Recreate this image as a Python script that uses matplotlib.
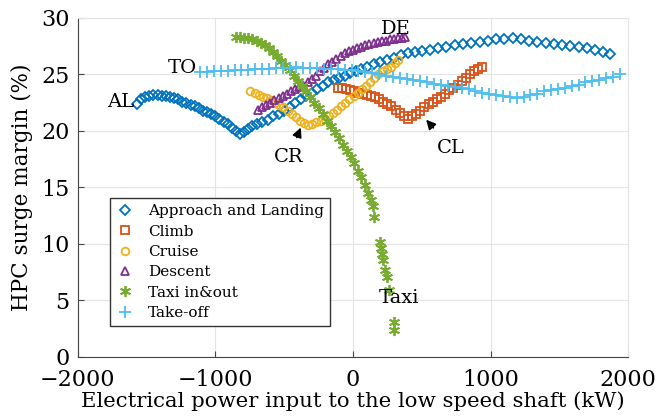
import numpy as np
import matplotlib.pyplot as plt

# Approach and Landing
al_x = [-1570, -1540, -1510, -1480, -1450, -1420, -1390, -1360, -1330, -1300,
        -1270, -1240, -1210, -1180, -1150, -1120, -1090, -1060, -1030, -1000,
        -970, -940, -910, -880, -850, -820, -790, -760, -730, -700,
        -660, -620, -580, -540, -500, -460, -420, -380, -340, -300,
        -260, -220, -180, -140, -100, -60, -20, 20, 60, 100,
        150, 200, 250, 300, 350, 400, 450, 500, 560, 620,
        680, 740, 800, 860, 920, 980, 1040, 1100, 1160, 1220,
        1280, 1340, 1400, 1460, 1520, 1580, 1640, 1700, 1760, 1820, 1870]
al_y = [22.4, 22.8, 23.0, 23.1, 23.2, 23.2, 23.1, 23.1, 23.0, 22.9,
        22.8, 22.6, 22.5, 22.3, 22.2, 22.0, 21.8, 21.7, 21.5, 21.3,
        21.1, 20.8, 20.6, 20.3, 20.0, 19.7, 19.9, 20.2, 20.4, 20.6,
        20.8, 21.0, 21.3, 21.5, 21.8, 22.1, 22.5, 22.8, 23.1, 23.4,
        23.7, 24.0, 24.3, 24.5, 24.7, 24.9, 25.1, 25.3, 25.5, 25.7,
        25.9, 26.1, 26.3, 26.5, 26.7, 26.9, 27.0, 27.1, 27.2, 27.3,
        27.4, 27.6, 27.7, 27.8, 27.9, 28.0, 28.1, 28.1, 28.2, 28.1,
        28.0, 27.9, 27.8, 27.7, 27.6, 27.5, 27.4, 27.3, 27.2, 27.0, 26.8]

# Climb
cl_x = [-110, -80, -50, -20, 10, 40, 70, 100, 130, 160, 190, 220, 250, 280,
        310, 340, 370, 400, 430, 460, 490, 520, 550, 580, 610, 640, 670,
        700, 730, 760, 790, 820, 850, 880, 910, 935]
cl_y = [23.8, 23.8, 23.7, 23.6, 23.5, 23.4, 23.3, 23.2, 23.1, 23.0, 22.8, 22.6,
        22.4, 22.2, 21.9, 21.6, 21.3, 21.1, 21.3, 21.5, 21.8, 22.1, 22.4, 22.6,
        22.8, 23.0, 23.3, 23.6, 23.8, 24.1, 24.4, 24.7, 25.0, 25.3, 25.5, 25.7]

# Cruise
cr_x = [-745, -715, -685, -655, -625, -595, -565, -535, -505, -475, -445,
        -415, -385, -355, -325, -295, -265, -235, -205, -175, -145, -115,
        -85, -55, -25, 5, 35, 65, 95, 125, 155, 185, 215, 245, 275, 305, 330]
cr_y = [23.5, 23.4, 23.2, 23.0, 22.9, 22.7, 22.5, 22.3, 22.1, 21.8, 21.5,
        21.2, 20.9, 20.7, 20.5, 20.6, 20.8, 20.9, 21.1, 21.3, 21.6, 21.9,
        22.2, 22.5, 22.8, 23.1, 23.4, 23.7, 24.0, 24.3, 24.7, 25.0, 25.3,
        25.5, 25.7, 26.0, 26.3]

# Descent
de_x = [-690, -660, -630, -600, -570, -540, -510, -480, -450, -420, -390,
        -360, -330, -300, -270, -240, -210, -180, -150, -120, -90, -60, -30,
        0, 30, 60, 90, 120, 150, 180, 210, 240, 270, 300, 330, 360, 380]
de_y = [21.9, 22.1, 22.3, 22.5, 22.7, 22.9, 23.1, 23.3, 23.5, 23.7, 23.9,
        24.1, 24.3, 24.6, 24.9, 25.3, 25.6, 25.9, 26.1, 26.4, 26.6, 26.9, 27.1,
        27.2, 27.3, 27.4, 27.6, 27.7, 27.8, 27.9, 28.0, 28.0, 28.1, 28.1, 28.2,
        28.2, 28.3]

# Taxi in&out
tx_x = [-850, -820, -790, -760, -730, -700, -670, -640, -610, -580, -550,
        -520, -490, -460, -430, -400, -370, -340, -310, -280, -250, -220,
        -190, -160, -130, -100, -70, -40, -15, 10, 35, 60, 85, 110, 130, 146,
        155, 197, 204, 212, 219, 233, 248, 262, 299, 299]
tx_y = [28.3, 28.3, 28.2, 28.2, 28.1, 28.0, 27.8, 27.6, 27.3, 27.0, 26.6,
        26.2, 25.8, 25.4, 24.9, 24.4, 24.0, 23.5, 23.0, 22.5, 22.0, 21.5,
        20.9, 20.4, 19.9, 19.4, 18.8, 18.2, 17.7, 17.2, 16.5, 15.9, 15.2,
        14.5, 13.9, 13.4, 12.4, 10.2, 9.6, 9.1, 8.6, 7.7, 7.1, 5.9, 3.1, 2.4]

# Take-off
to_x = [-1110, -1060, -1010, -960, -910, -860, -810, -760, -710, -660, -610,
        -560, -510, -460, -410, -360, -310, -260, -210, -160, -110, -60, -10,
        40, 90, 140, 190, 240, 290, 340, 390, 440, 490, 540, 590, 640, 690,
        740, 790, 840, 890, 940, 990, 1040, 1090, 1140, 1190, 1240, 1290,
        1340, 1390, 1440, 1490, 1540, 1590, 1640, 1690, 1740, 1790, 1840,
        1890, 1940]
to_y = [25.2, 25.2, 25.3, 25.3, 25.3, 25.4, 25.4, 25.4, 25.5, 25.5, 25.5,
        25.6, 25.6, 25.6, 25.7, 25.6, 25.6, 25.6, 25.5, 25.5, 25.5, 25.4, 25.4,
        25.3, 25.2, 25.1, 25.0, 24.9, 24.8, 24.7, 24.6, 24.5, 24.4, 24.3, 24.2,
        24.1, 24.0, 23.9, 23.8, 23.7, 23.5, 23.4, 23.3, 23.2, 23.1, 23.0, 22.9,
        23.0, 23.2, 23.3, 23.5, 23.6, 23.7, 23.8, 24.0, 24.1, 24.3, 24.4, 24.5,
        24.7, 24.8, 25.0]

plt.rcParams['font.family'] = ['DejaVu Serif']

fig = plt.figure(figsize=(6.64, 4.18), dpi=100)
ax = fig.add_axes([0.117, 0.146, 0.829, 0.811])

ms = 5.5
ax.plot(al_x, al_y, 'D', mfc='none', mec='#0072BD', ms=ms, mew=1.3, label='Approach and Landing')
ax.plot(cl_x, cl_y, 's', mfc='none', mec='#D95319', ms=ms, mew=1.3, label='Climb')
ax.plot(cr_x, cr_y, 'o', mfc='none', mec='#EDB120', ms=ms, mew=1.3, label='Cruise')
ax.plot(de_x, de_y, '^', mfc='none', mec='#7E2F8E', ms=ms, mew=1.3, label='Descent')
ax.plot(tx_x, tx_y, marker=(6, 2, 0), ls='none', color='#77AC30', ms=8, mew=1.3, label='Taxi in&out')
ax.plot(to_x, to_y, '+', color='#4DBEEE', ms=8, mew=1.3, label='Take-off')

ax.set_xlim(-2000, 2000)
ax.set_ylim(0, 30)
ax.set_xticks([-2000, -1000, 0, 1000, 2000])
ax.set_yticks([0, 5, 10, 15, 20, 25, 30])
ax.grid(True, color='#e4e4e4', linewidth=0.8)
ax.set_axisbelow(True)
ax.tick_params(direction='in', labelsize=16, length=4, color='#444444')
ax.tick_params(axis='x', pad=9)
ax.tick_params(axis='y', pad=6)
for s in ['top', 'right']:
    ax.spines[s].set_color('#e4e4e4')
for s in ['left', 'bottom']:
    ax.spines[s].set_color('#444444')

ax.set_xlabel('Electrical power input to the low speed shaft (kW)', fontsize=15.3, labelpad=0)
ax.set_ylabel('HPC surge margin (%)', fontsize=15.5, labelpad=6)

# phase labels
ax.text(-1690, 22.6, 'AL', fontsize=14, ha='center', va='center')
ax.text(-1239, 25.6, 'TO', fontsize=14, ha='center', va='center')
ax.text(310, 29.0, 'DE', fontsize=14, ha='center', va='center')
ax.text(335, 5.2, 'Taxi', fontsize=14, ha='center', va='center')
ax.annotate('CR', xy=(-379, 20.3), xytext=(-466, 17.7), fontsize=14, ha='center', va='center',
            arrowprops=dict(arrowstyle='-|>', color='black', lw=1.2, shrinkA=6, shrinkB=0))
ax.annotate('CL', xy=(532, 21.0), xytext=(714, 18.5), fontsize=14, ha='center', va='center',
            arrowprops=dict(arrowstyle='-|>', color='black', lw=1.2, shrinkA=8, shrinkB=0))

leg = ax.legend(loc='lower left', bbox_to_anchor=(0.045, 0.068), fontsize=11,
                frameon=True, fancybox=False, edgecolor='#333333', framealpha=1,
                markerscale=1.0, handlelength=1.2, handletextpad=0.9,
                borderpad=0.4, labelspacing=0.42)
leg.get_frame().set_linewidth(1.0)

fig.savefig('out.png', dpi=100)
